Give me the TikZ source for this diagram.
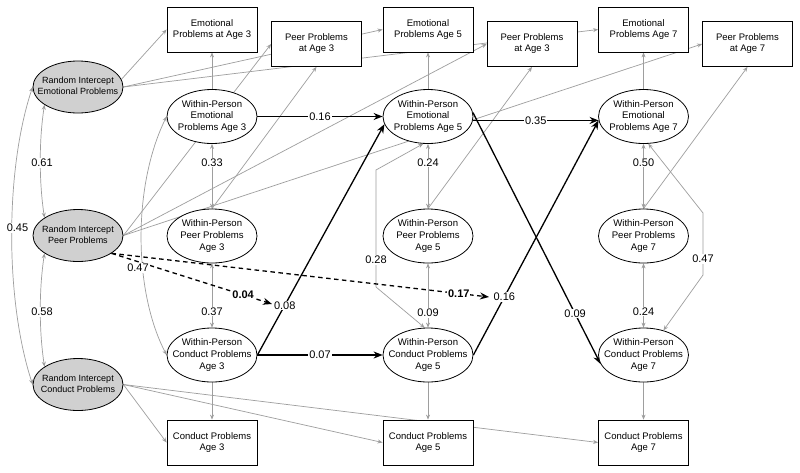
\documentclass[tikz,border=0pt]{standalone}
\usepackage{fontspec}
\setmainfont{Liberation Sans}
\usetikzlibrary{arrows.meta,shapes.geometric,backgrounds}
\definecolor{lgray}{RGB}{158,158,158}
\definecolor{rigray}{RGB}{208,208,208}
\newcommand{\mlines}[1]{\makebox[0pt]{\begin{tabular}{@{}c@{}}#1\end{tabular}}}
\pgfdeclarelayer{bottomlayer}
\pgfsetlayers{bottomlayer,background,main}
\begin{document}
\begin{tikzpicture}[x=1pt,y=-1pt,
  box/.style={draw=black, line width=0.8pt, fill=white, minimum width=90pt, minimum height=45pt, inner sep=0pt, align=center, font=\fontsize{9.5}{11}\selectfont},
  wpnode/.style={draw=black, line width=0.8pt, ellipse, fill=white, minimum width=90pt, minimum height=54pt, inner sep=0pt, font=\fontsize{9.6}{11.8}\selectfont},
  rinode/.style={draw=black, line width=0.8pt, ellipse, fill=rigray, minimum width=90pt, minimum height=52pt, inner sep=0pt, font=\fontsize{9}{11.3}\selectfont},
  gl/.style={draw=lgray, line width=0.7pt, -{Stealth[length=5pt,width=4pt]}},
  gcov/.style={draw=lgray, line width=0.7pt, {Stealth[length=5pt,width=4pt]}-{Stealth[length=5pt,width=4pt]}},
  bl/.style={draw=black, line width=1.3pt, -{Stealth[length=9pt,width=7pt]}},
  dl/.style={draw=black, line width=1.3pt, dash pattern=on 4.5pt off 3.5pt, -{Stealth[length=9pt,width=7pt]}},
  lab/.style={fill=white, inner sep=0.8pt, font=\fontsize{11}{12}\selectfont},
  blab/.style={fill=white, inner sep=0.8pt, font=\fontsize{11}{12}\selectfont\bfseries},
]
\begin{pgfonlayer}{bottomlayer}
\fill[white] (0,0) rectangle (800,472);
\end{pgfonlayer}
\useasboundingbox (0,0) rectangle (800,472);

% observed boxes
\node[box] (e3) at (212,29.5) {Emotional\\Problems at Age 3};
\node[box] (p3) at (316.5,44) {Peer Problems\\at Age 3};
\node[box] (e5) at (428,29.5) {Emotional\\Problems Age 5};
\node[box] (p5) at (532,44) {Peer Problems\\at Age 3};
\node[box] (e7) at (643.5,29.5) {Emotional\\Problems Age 7};
\node[box] (p7) at (747.5,44) {Peer Problems\\at Age 7};
\node[box] (c3) at (212,442.5) {Conduct Problems\\Age 3};
\node[box] (c5) at (428,442.5) {Conduct Problems\\Age 5};
\node[box] (c7) at (643.5,442.5) {Conduct Problems\\Age 7};

% random intercepts
\node[rinode] (rie) at (78,87) {\mlines{Random Intercept\\Emotional Problems}};
\node[rinode] (rip) at (78,235.5) {\mlines{Random Intercept\\Peer Problems}};
\node[rinode] (ric) at (78,384.5) {\mlines{Random Intercept\\Conduct Problems}};

% within-person
\node[wpnode] (we3) at (212,116.5) {\mlines{Within-Person\\Emotional\\Problems Age 3}};
\node[wpnode] (wp3) at (212,236) {\mlines{Within-Person\\Peer Problems\\Age 3}};
\node[wpnode] (wc3) at (212,355) {\mlines{Within-Person\\Conduct Problems\\Age 3}};
\node[wpnode] (we5) at (428,116.5) {\mlines{Within-Person\\Emotional\\Problems Age 5}};
\node[wpnode] (wp5) at (428,236) {\mlines{Within-Person\\Peer Problems\\Age 5}};
\node[wpnode] (wc5) at (428,355) {\mlines{Within-Person\\Conduct Problems\\Age 5}};
\node[wpnode] (we7) at (643.5,116.5) {\mlines{Within-Person\\Emotional\\Problems Age 7}};
\node[wpnode] (wp7) at (643.5,236) {\mlines{Within-Person\\Peer Problems\\Age 7}};
\node[wpnode] (wc7) at (643.5,355) {\mlines{Within-Person\\Conduct Problems\\Age 7}};

\coordinate (t1) at (272,304);
\coordinate (t2) at (489,297);
\coordinate (b28a) at (376,170);
\coordinate (b28b) at (376,287);
\coordinate (b47a) at (703,213);
\coordinate (b47b) at (703,275);

\begin{pgfonlayer}{background}
% random intercept loadings
\draw[gl] (rie.10) -- (e3.west);
\draw[gl] (rie.east) -- (e5.west);
\draw[gl] (rie.east) -- (e7.west);
\draw[gl] (rip.east) -- (p3.west);
\draw[gl] (rip.east) -- (p5.west);
\draw[gl] (rip.east) -- (p7.west);
\draw[gl] (ric.east) -- (c3.west);
\draw[gl] (ric.east) -- (c5.west);
\draw[gl] (ric.east) -- (c7.west);
% within-person loadings and covariances
\foreach \i in {3,5,7} {
  \draw[gl] (we\i.north) -- (e\i.south);
  \draw[gl] (wp\i.north) -- (p\i.south);
  \draw[gl] (wc\i.south) -- (c\i.north);
  \draw[gcov] (we\i.south) -- (wp\i.north);
  \draw[gcov] (wp\i.south) -- (wc\i.north);
}
% random intercept covariances
\draw[gcov] (rie.west) .. controls (5,170) and (5,300) .. (ric.west);
\draw[gcov] (rie.-152) .. controls (39,140) and (39,182) .. (rip.152);
\draw[gcov] (rip.-152) .. controls (39,290) and (39,330) .. (ric.152);
% within covariances emotional-conduct
\draw[gcov] (we3.west) .. controls (133,185) and (133,290) .. (wc3.west);
\draw[gcov] (we5.-100) -- (b28a) -- (b28b) -- (wc5.97);
\draw[gcov] (we7.-80) -- (b47a) -- (b47b) -- (wc7.51);
% lagged paths
\draw[bl] (we3.east) -- (we5.west);
\draw[bl] (we5.-5) -- (we7.-175);
\draw[bl] (wc3.east) -- (wc5.west);
\draw[bl] (wc3.east) -- (we5.-170);
\draw[bl] (wc5.east) -- (we7.-175);
\draw[bl] (we5.5) -- (wc7.-168);
% moderation
\draw[dl] (rip.-28) -- (t1);
\draw[dl] (rip.-28) -- (t2);
\end{pgfonlayer}

% labels
\path (we3.east) -- node[lab]{0.16} (we5.west);
\path (we5.-5) -- node[lab]{0.35} (we7.-175);
\path (wc3.east) -- node[lab]{0.07} (wc5.west);
\path (wc3.east) -- node[lab,pos=.215]{0.08} (we5.-170);
\path (wc5.east) -- node[lab,pos=.247]{0.16} (we7.-175);
\path (we5.5) -- node[lab,pos=.80]{0.09} (wc7.-168);
\path (we3.south) -- node[lab,pos=.29]{0.33} (wp3.north);
\path (wp3.south) -- node[lab,pos=.75]{0.37} (wc3.north);
\path (we5.south) -- node[lab,pos=.29]{0.24} (wp5.north);
\path (wp5.south) -- node[lab,pos=.77]{0.09} (wc5.north);
\path (we7.south) -- node[lab,pos=.29]{0.50} (wp7.north);
\path (wp7.south) -- node[lab,pos=.75]{0.24} (wc7.north);
\node[lab] (l61) at (42,163) {0.61};
\node[lab] (l58) at (42,312) {0.58};
\node[lab] (l45) at (17.5,228) {0.45};
\node[lab] (l47a) at (138,268) {0.47};
\node[lab] (l28) at (376,260) {0.28};
\node[lab] (l47b) at (703,259) {0.47};
\path (rip.-28) -- node[blab,pos=.82]{0.04} (t1);
\path (rip.-28) -- node[blab,pos=.92]{0.17} (t2);
\end{tikzpicture}
\end{document}
